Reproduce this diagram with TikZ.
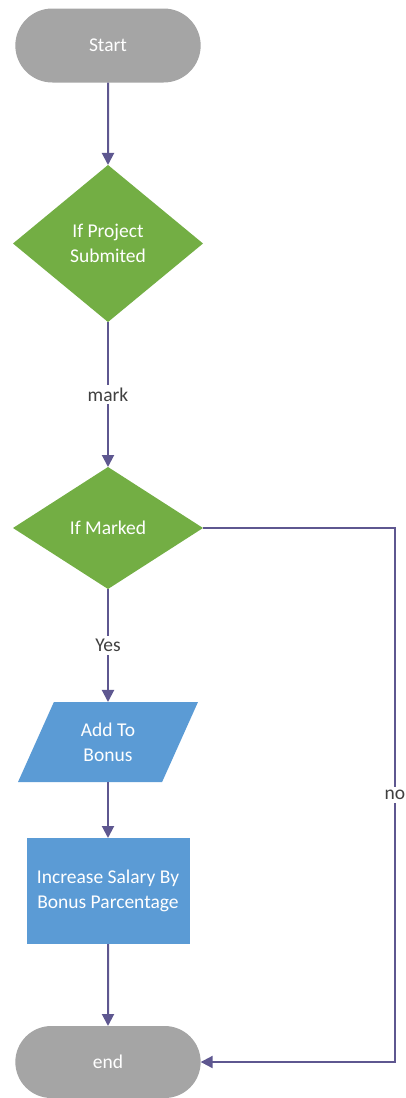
\documentclass[tikz,border=0pt]{standalone}
\usepackage{fontspec}
\setmainfont{Carlito}
\usetikzlibrary{shapes.geometric,shapes.misc,arrows.meta}

\definecolor{termgray}{HTML}{A5A5A5}
\definecolor{askgreen}{HTML}{73AE44}
\definecolor{doblue}{HTML}{5B9BD5}
\definecolor{flowline}{HTML}{5E5790}
\definecolor{lbltext}{HTML}{404040}

\tikzset{
	terminal/.style={rounded rectangle, fill=termgray, text=white,
		minimum width=192pt, minimum height=74pt, outer sep=0pt},
	ask/.style={diamond, fill=askgreen, text=white, align=center,
		inner sep=0pt, minimum width=190pt, outer sep=0pt},
	io/.style={trapezium, trapezium left angle=66, trapezium right angle=114,
		trapezium stretches=true, fill=doblue, text=white, align=center,
		minimum width=180pt, minimum height=80pt, outer sep=0pt},
	work/.style={rectangle, fill=doblue, text=white, align=center,
		minimum width=163pt, minimum height=106pt, outer sep=0pt},
	flow/.style={draw=flowline, line width=2pt, -{Triangle[length=12pt,width=12pt]}},
	lbl/.style={fill=white, text=lbltext, inner sep=3pt},
}

\begin{document}
\begin{tikzpicture}[x=1pt,y=-1pt,font=\fontsize{19.5}{25}\selectfont]
	\useasboundingbox (0,0) rectangle (406,1098);
	% shapes
	\node[terminal] (start) at (108,45.5) {Start};
	\node[ask, minimum height=157pt] (q1) at (108,243.5) {If Project\\Submited};
	\node[ask, minimum height=122pt] (q2) at (108,528) {If Marked};
	\node[io] (add) at (108,742) {Add To\\Bonus};
	\node[work] (inc) at (108,891) {Increase Salary By\\Bonus Parcentage};
	\node[terminal, minimum height=72pt] (end) at (108,1062) {end};
	% no branch
	\coordinate (noTop) at (395,528);
	\coordinate (noBot) at (395,1062);

	\draw[flow] (start) -- (q1);
	\draw[flow] (q1) -- node[lbl]{mark} (q2);
	\draw[flow] (q2) -- node[lbl]{Yes} (add);
	\draw[flow] (add) -- (inc);
	\draw[flow] (inc) -- (end);
	\draw[flow] (q2.east) -- (noTop) -- node[lbl]{no} (noBot) -- (end.east);
\end{tikzpicture}
\end{document}
